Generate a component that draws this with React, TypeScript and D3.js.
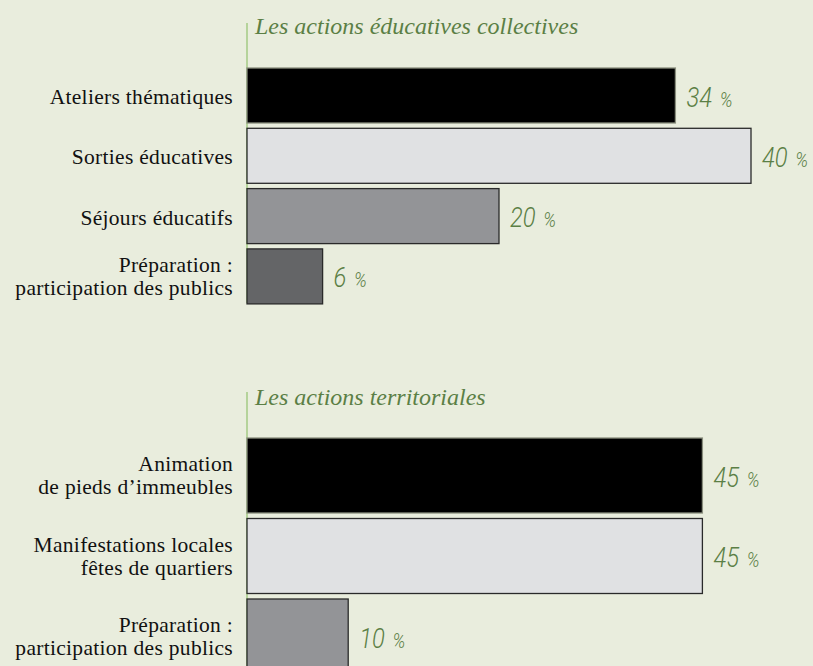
import React from "react";
import * as d3 from "d3";

const title1 = "Les actions éducatives collectives";
const cats1 = [["Ateliers thématiques"], ["Sorties éducatives"], ["Séjours éducatifs"], ["Préparation :", "participation des publics"]];
const vals1 = [34, 40, 20, 6];
const fills1 = ["#000000", "#e0e1e3", "#939497", "#646567"];

const title2 = "Les actions territoriales";
const cats2 = [["Animation", "de pieds d’immeubles"], ["Manifestations locales", "fêtes de quartiers"], ["Préparation :", "participation des publics"]];
const vals2 = [45, 45, 10];
const fills2 = ["#000000", "#e0e1e3", "#939497"];

const GREEN = "#5b7f45";

function Panel({ title, cats, vals, fills, x0, pxPer, yTop, step, barH, titleY, axisTop, axisBottom }: any) {
  const n = vals.length;
  const x = d3.scaleLinear().domain([0, 1]).range([x0, x0 + pxPer]);
  const y = d3
    .scaleBand<number>()
    .domain(d3.range(n))
    .range([yTop, yTop + step * n - (step - barH)])
    .paddingInner((step - barH) / step)
    .paddingOuter(0);
  return (
    <g>
      <line x1={x0} x2={x0} y1={axisTop} y2={axisBottom} stroke="#93c26f" strokeWidth={1.2} />
      <text x={x0 + 8} y={titleY} fontFamily="'Liberation Serif', serif" fontStyle="italic" fontSize={24} fill={GREEN}>
        {title}
      </text>
      {vals.map((v: number, i: number) => {
        const yy = y(i)!;
        const bw = y.bandwidth();
        const lines: string[] = cats[i];
        const lh = 23;
        const cy = yy + bw / 2;
        const lx = x(v) + 11;
        const ly = cy + 11;
        return (
          <g key={i}>
            <rect x={x(0)} y={yy} width={x(v) - x(0)} height={bw} fill={fills[i]} stroke={i === 0 ? "#8a8f7e" : "#2a2a2a"} strokeWidth={1.3} />
            {lines.map((l, j) => (
              <text
                key={j}
                x={233}
                y={lines.length === 1 ? cy + 8.5 : cy + 7 + (j - (lines.length - 1) / 2) * lh}
                textAnchor="end"
                fontFamily="'Liberation Serif', serif"
                fontSize={21.5}
                letterSpacing={0.3}
                fill="#111"
              >
                {l}
              </text>
            ))}
            <text
              transform={`translate(${lx},${ly}) scale(0.85,1)`}
              fontFamily="Roboto, sans-serif"
              fontStyle="italic"
              fontWeight={300}
              fontSize={28}
              fill={GREEN}
            >
              {v}
              <tspan fontSize={21} dx={9}>%</tspan>
            </text>
          </g>
        );
      })}
    </g>
  );
}

export default function App() {
  return (
    <svg width={813} height={666} style={{ position: "absolute", left: 0, top: 0, display: "block" }}>
      <rect width={813} height={666} fill="#e9eddd" />
      <Panel title={title1} cats={cats1} vals={vals1} fills={fills1} x0={247} pxPer={12.6} yTop={68} step={60.3} barH={55} titleY={34} axisTop={23} axisBottom={303} />
      <Panel title={title2} cats={cats2} vals={vals2} fills={fills2} x0={247} pxPer={10.12} yTop={438} step={80.5} barH={75} titleY={405} axisTop={392} axisBottom={666} />
    </svg>
  );
}
